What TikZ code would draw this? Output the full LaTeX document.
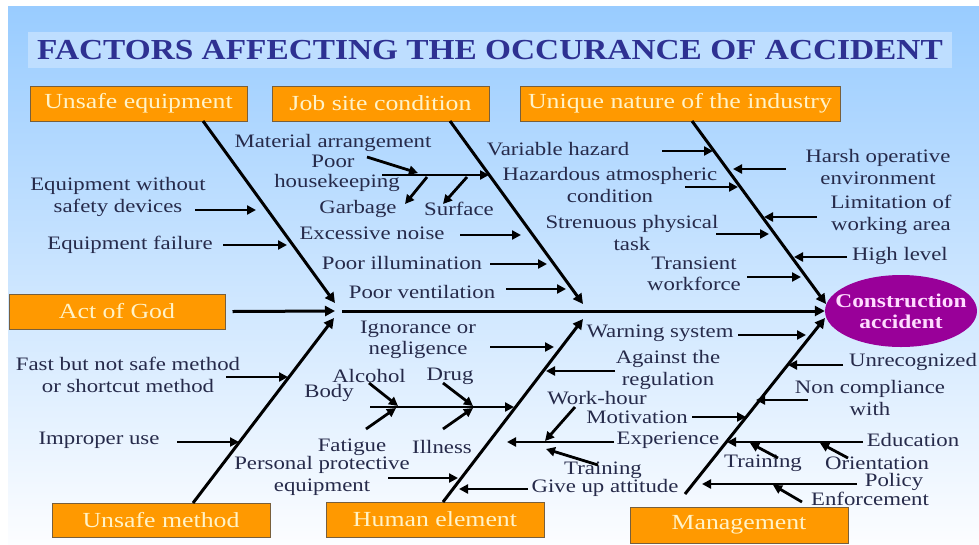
\documentclass[tikz,border=0pt]{standalone}
\usepackage{fontspec}
\setmainfont{Liberation Serif}
\newfontfamily\lblfont[FakeStretch=1.2]{Liberation Serif}
\newfontfamily\ttlfont[FakeStretch=1.15]{Liberation Serif}
\usetikzlibrary{arrows.meta,shapes.geometric}
\definecolor{bgtop}{RGB}{153,204,255}
\definecolor{bgbot}{RGB}{252,253,255}
\definecolor{titleband}{RGB}{190,222,255}
\definecolor{titlecol}{RGB}{46,49,146}
\definecolor{catfill}{RGB}{255,153,0}
\definecolor{catborder}{RGB}{120,95,60}
\definecolor{cattext}{RGB}{255,243,200}
\definecolor{accfill}{RGB}{153,0,153}
\definecolor{acctext}{RGB}{255,220,255}
\definecolor{lblcol}{RGB}{38,42,74}
\begin{document}
\begin{tikzpicture}[x=1pt,y=-1pt,
  cat/.style={draw=catborder,line width=1pt,fill=catfill,text=cattext,
    font=\lblfont\fontsize{21.5}{24}\selectfont,minimum height=35pt,inner sep=0pt},
  lbl/.style={text=lblcol,font=\lblfont\fontsize{19}{21.5}\selectfont,align=center,inner sep=0pt},
  bone/.style={line width=3pt,-{Triangle[length=10pt,width=10pt]}},
  arr/.style={line width=2.8pt,-{Triangle[length=9pt,width=9pt]}}]
\useasboundingbox (0,0) rectangle (979,544);
\shade[top color=bgtop,bottom color=bgbot] (8,6) rectangle (979,544);
\fill[titleband] (28,32) rectangle (952,68);
\node[text=titlecol,font=\ttlfont\bfseries\fontsize{29}{31}\selectfont,inner sep=0pt] (title) at (490,50) {FACTORS AFFECTING THE OCCURANCE OF ACCIDENT};

% category boxes
\node[cat,minimum width=217pt] (ue) at (138.5,103.5) {Unsafe equipment};
\node[cat,minimum width=217pt] (js) at (380.5,103.5) {Job site condition};
\node[cat,minimum width=320pt] (un) at (680,103.5) {Unique nature of the industry};
\node[cat,minimum width=216pt] (god) at (117,311.5) {Act of God};
\node[cat,minimum width=218pt,minimum height=34pt] (um) at (161,520) {Unsafe method};
\node[cat,minimum width=218pt] (he) at (435,519.5) {Human element};
\node[cat,minimum width=218pt,minimum height=36pt] (mg) at (739,525) {Management};

% effect
\node[ellipse,fill=accfill,minimum width=152pt,minimum height=72pt,inner sep=0pt] (acc) at (901,311) {};
\node[text=acctext,inner sep=0pt,align=center,font=\lblfont\bfseries\fontsize{19.5}{21}\selectfont] (acctxt) at (acc.center) {Construction\\accident};

% spine
\coordinate (spine0) at (342,311);
\coordinate (godend) at (335,311);
\draw[bone] ([xshift=7pt]god.east) -- (godend);
\draw[bone] (spine0) -- (acc.west);

% main bones
\coordinate (ue0) at (203,121);   \coordinate (ue1) at (335,303);
\coordinate (js0) at (450,121);   \coordinate (js1) at (583,304);
\coordinate (un0) at (692,121);   \coordinate (un1) at (826,304);
\coordinate (um0) at (193,503);   \coordinate (um1) at (334,318);
\coordinate (he0) at (443,502);   \coordinate (he1) at (583,319);
\coordinate (mg0) at (685,494);   \coordinate (mg1) at (825,318);
\draw[bone] (ue0) -- (ue1);
\draw[bone] (js0) -- (js1);
\draw[bone] (un0) -- (un1);
\draw[bone] (um0) -- (um1);
\draw[bone] (he0) -- (he1);
\draw[bone] (mg0) -- (mg1);

% ---- Unsafe equipment
\node[lbl] (eqw) at (118,197) {Equipment without\\safety devices};
\node[lbl] (efail) at (130,245) {Equipment failure};
\coordinate (a1s) at (195,210); \coordinate (a1e) at (256,210);
\coordinate (a2s) at (223,245); \coordinate (a2e) at (287,245);
\draw[arr] (a1s) -- (a1e);
\draw[arr] (a2s) -- (a2e);

% ---- Job site condition
\node[lbl] (mat) at (333,143) {Material arrangement};
\node[lbl] (poor) at (333,161) {Poor};
\node[lbl] (hk) at (337,183) {housekeeping};
\node[lbl] (garb) at (358,209) {Garbage};
\node[lbl] (surf) at (459,209) {Surface};
\node[lbl] (noise) at (372,233) {Excessive noise};
\node[lbl] (illum) at (402,263) {Poor illumination};
\node[lbl] (vent) at (422,292) {Poor ventilation};
\coordinate (hks) at (382,175); \coordinate (hke) at (489,175);
\coordinate (pos) at (367,157); \coordinate (poe) at (418,173);
\coordinate (gas) at (427,177); \coordinate (gae) at (405,204);
\coordinate (sus) at (467,177); \coordinate (sue) at (443,204);
\coordinate (nos) at (460,235); \coordinate (noe) at (521,235);
\coordinate (ils) at (490,264); \coordinate (ile) at (547,264);
\coordinate (ves) at (506,289); \coordinate (vee) at (566,289);
\draw[arr] (hks) -- (hke);
\draw[arr] (pos) -- (poe);
\draw[arr] (gas) -- (gae);
\draw[arr] (sus) -- (sue);
\draw[arr] (nos) -- (noe);
\draw[arr] (ils) -- (ile);
\draw[arr] (ves) -- (vee);

% ---- Unique nature of the industry
\node[lbl] (var) at (558,149) {Variable hazard};
\node[lbl] (haz) at (610,185) {Hazardous atmospheric\\condition};
\node[lbl] (stren) at (632,233) {Strenuous physical\\task};
\node[lbl] (trans) at (694,274) {Transient\\workforce};
\node[lbl] (harsh) at (878,167) {Harsh operative\\environment};
\node[lbl] (limit) at (891,215) {Limitation of\\working area};
\node[lbl] (high) at (900,256) {High level};
\coordinate (vas) at (662,151); \coordinate (vae) at (713,151);
\coordinate (has) at (685,187); \coordinate (hae) at (738,187);
\coordinate (sts) at (716,234); \coordinate (ste) at (769,234);
\coordinate (trs) at (747,277); \coordinate (tre) at (801,277);
\coordinate (hos) at (786,169); \coordinate (hoe) at (733,169);
\coordinate (lis) at (817,217); \coordinate (lie) at (764,217);
\coordinate (hls) at (847,257); \coordinate (hle) at (794,257);
\draw[arr] (vas) -- (vae);
\draw[arr] (has) -- (hae);
\draw[arr] (sts) -- (ste);
\draw[arr] (trs) -- (tre);
\draw[arr] (hos) -- (hoe);
\draw[arr] (lis) -- (lie);
\draw[arr] (hls) -- (hle);

% ---- Unsafe method
\node[lbl] (fast) at (128,375) {Fast but not safe method\\or shortcut method};
\node[lbl] (impr) at (99,440) {Improper use};
\coordinate (fas) at (226,377); \coordinate (fae) at (288,377);
\coordinate (ims) at (177,442); \coordinate (ime) at (239,442);
\draw[arr] (fas) -- (fae);
\draw[arr] (ims) -- (ime);

% ---- Human element
\node[lbl] (ign) at (418,340) {Ignorance or\\negligence};
\node[lbl] (alc) at (369,376) {Alcohol};
\node[lbl] (drug) at (450,376) {Drug};
\node[lbl] (body) at (329,393) {Body};
\node[lbl] (fat) at (352,447) {Fatigue};
\node[lbl] (ill) at (442,447) {Illness};
\node[lbl] (ppe) at (322,476) {Personal protective\\equipment};
\node[lbl] (give) at (605,488) {Give up attitude};
\node[lbl] (warn) at (660,333) {Warning system};
\node[lbl] (against) at (668,370) {Against the\\regulation};
\node[lbl] (work) at (597,398) {Work-hour};
\node[lbl] (motiv) at (637,417) {Motivation};
\node[lbl] (exp) at (668,440) {Experience};
\node[lbl] (trainA) at (603,470) {Training};
\coordinate (igs) at (490,347); \coordinate (ige) at (554,347);
\coordinate (bos) at (370,407); \coordinate (boe) at (514,407);
\coordinate (als) at (369,383); \coordinate (ale) at (398,406);
\coordinate (fts) at (366,429); \coordinate (fte) at (396,408);
\coordinate (drs) at (443,383); \coordinate (dre) at (473,406);
\coordinate (ils2) at (443,429); \coordinate (ile2) at (473,408);
\coordinate (pps) at (388,478); \coordinate (ppe2) at (458,478);
\coordinate (ags) at (615,371); \coordinate (age) at (546,371);
\coordinate (exs) at (614,442); \coordinate (exe) at (507,442);
\coordinate (wks) at (575,407); \coordinate (wke) at (545,441);
\coordinate (tas) at (598,465); \coordinate (tae) at (546,449);
\coordinate (gis) at (528,489); \coordinate (gie) at (459,489);
\draw[arr] (igs) -- (ige);
\draw[arr] (bos) -- (boe);
\draw[arr] (als) -- (ale);
\draw[arr] (fts) -- (fte);
\draw[arr] (drs) -- (dre);
\draw[arr] (ils2) -- (ile2);
\draw[arr] (pps) -- (ppe2);
\draw[arr] (ags) -- (age);
\draw[arr] (exs) -- (exe);
\draw[arr] (wks) -- (wke);
\draw[arr] (tas) -- (tae);
\draw[arr] (gis) -- (gie);

% ---- Management
\node[lbl] (unrec) at (913,362) {Unrecognized};
\node[lbl] (noncomp) at (870,398) {Non compliance\\with};
\node[lbl] (edu) at (913,440) {Education};
\node[lbl] (trainB) at (763,463) {Training};
\node[lbl] (orient) at (877,463) {Orientation};
\node[lbl] (policy) at (894,482) {Policy};
\node[lbl] (enf) at (870,499) {Enforcement};
\coordinate (wns) at (738,335); \coordinate (wne) at (806,335);
\coordinate (urs) at (843,365); \coordinate (ure) at (788,365);
\coordinate (ncs) at (808,400); \coordinate (nce) at (756,400);
\coordinate (mos) at (692,417); \coordinate (moe) at (746,417);
\coordinate (eds) at (863,442); \coordinate (ede) at (727,442);
\coordinate (tbs) at (778,458); \coordinate (tbe) at (750,443);
\coordinate (ors) at (848,458); \coordinate (ore) at (820,443);
\coordinate (pls) at (857,484); \coordinate (ple) at (702,484);
\coordinate (ens) at (802,502); \coordinate (ene) at (773,485);
\draw[arr] (wns) -- (wne);
\draw[arr] (urs) -- (ure);
\draw[arr] (ncs) -- (nce);
\draw[arr] (mos) -- (moe);
\draw[arr] (eds) -- (ede);
\draw[arr] (tbs) -- (tbe);
\draw[arr] (ors) -- (ore);
\draw[arr] (pls) -- (ple);
\draw[arr] (ens) -- (ene);
\end{tikzpicture}
\end{document}
